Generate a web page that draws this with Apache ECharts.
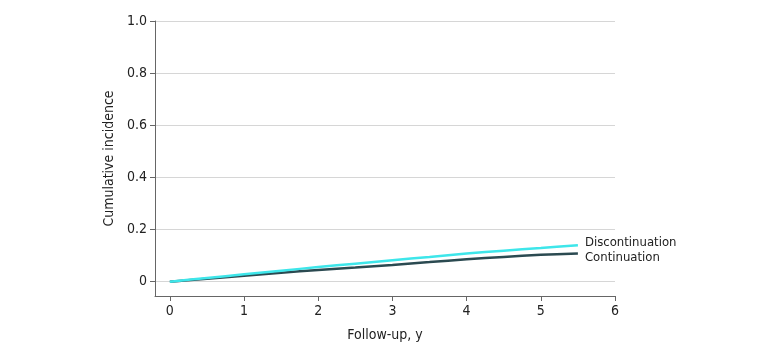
<!DOCTYPE html>
<html>
<head>
<meta charset="utf-8">
<script src="https://cdn.jsdelivr.net/npm/echarts@6/dist/echarts.min.js"></script>
<style>
  html, body { margin: 0; padding: 0; background: #fff; }
  #chart { width: 780px; height: 351px; }
</style>
</head>
<body>
<div id="chart"></div>
<script>
var years = [0, 0.5, 1, 1.5, 2, 2.5, 3, 3.5, 4, 4.5, 5, 5.5];
var discontinuation = [0, 0.014, 0.028, 0.042, 0.056, 0.069, 0.082, 0.095, 0.108, 0.119, 0.129, 0.140];
var continuation = [0, 0.011, 0.023, 0.034, 0.045, 0.054, 0.064, 0.075, 0.086, 0.095, 0.103, 0.108];
var xTicks = [0, 1, 2, 3, 4, 5, 6];
var yTicks = [0, 0.2, 0.4, 0.6, 0.8, 1.0];

function pairs(xs, ys) {
  return xs.map(function(x, i) { return [x, ys[i]]; });
}

var font = '"Liberation Sans Narrow", "DejaVu Sans Condensed", "Noto Sans", sans-serif';
var chart = echarts.init(document.getElementById('chart'));
var option = {
  animation: false,
  grid: { left: 155, right: 165, top: 21, bottom: 55 },
  xAxis: {
    type: 'value',
    min: -0.2,
    max: 6,
    name: 'Follow-up, y',
    nameLocation: 'middle',
    nameGap: 32,
    nameTextStyle: { color: '#222', fontSize: 14, fontFamily: font },
    axisLine: { show: true, onZero: false, lineStyle: { color: '#666', width: 1 } },
    axisTick: { show: true, customValues: xTicks, length: 5, lineStyle: { color: '#666' } },
    axisLabel: {
      customValues: xTicks, color: '#222', fontSize: 14, fontFamily: font, margin: 8,
      formatter: function(v) { return String(v); }
    },
    splitLine: { show: false }
  },
  yAxis: {
    type: 'value',
    min: -0.055,
    max: 1,
    name: 'Cumulative incidence',
    nameLocation: 'middle',
    nameGap: 36,
    nameTextStyle: { color: '#222', fontSize: 14, fontFamily: font },
    axisLine: { show: true, onZero: false, lineStyle: { color: '#666', width: 1 } },
    axisTick: { show: true, customValues: yTicks, length: 5, lineStyle: { color: '#666' } },
    axisLabel: {
      customValues: yTicks, color: '#222', fontSize: 14, fontFamily: font, margin: 8,
      formatter: function(v) { return v === 0 ? '0' : v.toFixed(1); }
    },
    splitLine: { show: true, lineStyle: { color: '#d6d6d6', width: 1 } }
  },
  series: [
    {
      name: 'Discontinuation',
      type: 'line',
      data: pairs(years, discontinuation),
      showSymbol: false,
      smooth: 0.3,
      lineStyle: { color: '#3ee6ea', width: 2.5 },
      itemStyle: { color: '#3ee6ea' },
      endLabel: {
        show: true, formatter: '{a}', color: '#222', fontSize: 13, fontFamily: font,
        distance: 7, offset: [0, -3]
      },
      z: 3
    },
    {
      name: 'Continuation',
      type: 'line',
      data: pairs(years, continuation),
      showSymbol: false,
      smooth: 0.3,
      lineStyle: { color: '#2b4a51', width: 2.5 },
      itemStyle: { color: '#2b4a51' },
      endLabel: {
        show: true, formatter: '{a}', color: '#222', fontSize: 13, fontFamily: font,
        distance: 7, offset: [0, 4]
      },
      z: 2
    }
  ]
};
chart.setOption(option);
</script>
</body>
</html>
